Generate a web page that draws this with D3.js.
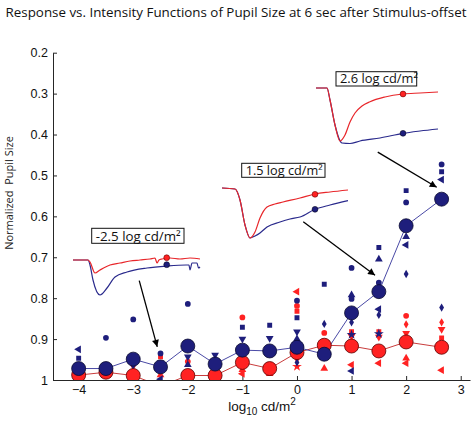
<!DOCTYPE html>
<html><head><meta charset="utf-8">
<script src="https://cdn.jsdelivr.net/npm/d3@7"></script>
<style>body{margin:0;background:#fff}svg{display:block}</style>
</head><body><svg id="c" width="472" height="426"></svg>
<script>
// ---------------- DATA ----------------
const titleText = "Response vs. Intensity Functions of Pupil Size at 6 sec after Stimulus-offset";
const yLabelText = "Normalized  Pupil Size";
const intensities = [-4, -3.5, -3, -2.5, -2, -1.5, -1, -0.5, 0, 0.5, 1, 1.5, 2, 2.65];
const blueMean = [0.972, 0.972, 0.949, 0.968, 0.917, 0.961, 0.927, 0.929, 0.920, 0.937, 0.836, 0.784, 0.623, 0.558];
const redMean  = [0.988, 0.981, 0.989, 1.015, 0.989, 0.989, 0.957, 0.972, 0.933, 0.915, 0.917, 0.929, 0.907, 0.920];
// individual subjects: [intensity, value, marker]
const blueIndiv = [
  [-4,0.925,"<"],[-4,0.947,"s"],[-4,0.985,"v"],
  [-3.5,0.897,"o"],[-3.5,0.985,"v"],
  [-3,0.852,"o"],[-3,0.964,"v"],
  [-2.5,0.935,"o"],[-2.5,0.958,"v"],[-2.5,0.998,"<"],
  [-2,0.814,"o"],[-2,0.943,"v"],[-2,0.963,"^"],
  [-1.5,0.939,"v"],
  [-1,0.871,"s"],[-1,0.900,"v"],
  [-0.5,0.866,"s"],[-0.5,0.898,"v"],
  [0,0.806,"o"],[0,0.848,"s"],[0,0.882,"v"],[0,0.900,"^"],[0,0.957,"d"],
  [0.5,0.766,"s"],[0.5,0.863,"d"],
  [1,0.726,"o"],[1,0.792,"^"],[1,0.802,"o"],[1,0.859,"d"],[1,0.889,"*"],[1,0.978,"<"],
  [1.5,0.676,"s"],[1.5,0.705,"^"],[1.5,0.762,"o"],[1.5,0.827,"<"],[1.5,0.841,"d"],[1.5,0.887,"*"],
  [2,0.537,"s"],[2,0.566,"o"],[2,0.650,"^"],[2,0.670,"<"],[2,0.741,"d"],
  [2.65,0.473,"o"],[2.65,0.491,"s"],[2.65,0.510,"<"],[2.65,0.823,"d"]
];
const redIndiv = [
  [-3,0.966,"v"],
  [-2.5,0.943,"s"],[-2.5,0.988,"^"],
  [-2,0.955,"o"],
  [-1.5,0.980,"^"],
  [-1,0.847,"o"],[-1,0.975,"^"],[-1,0.985,"<"],
  [-0.5,0.967,"v"],[-0.5,0.985,"^"],
  [0,0.784,"<"],[0,0.819,"o"],[0,0.832,"s"],[0,0.949,"d"],[0,0.967,"*"],
  [0.5,0.885,"o"],[0.5,0.972,"^"],
  [1,0.882,"s"],[1,0.893,"v"],[1,0.963,"<"],
  [1.5,0.882,"s"],[1.5,0.895,"v"],[1.5,0.959,"<"],
  [2,0.843,"o"],[2,0.864,"d"],[2,0.886,"v"],[2,0.947,"^"],[2,0.959,"<"],
  [2.65,0.859,"d"],[2.65,0.876,"v"],[2.65,0.897,"s"],[2.65,0.976,"<"]
];
const xTicks = [-4, -3, -2, -1, 0, 1, 2, 3];
const yTicks = [0.2, 0.3, 0.4, 0.5, 0.6, 0.7, 0.8, 0.9, 1];
const insetLabels = ["-2.5 log cd/m\u00B2", "1.5 log cd/m\u00B2", "2.6 log cd/m\u00B2"];
// inset pupil traces: [time, normalized size]
const trace1Red  = [[0,1],[3,1],[3.4,0.98],[4.4,0.87],[5.4,0.90],[7.4,0.95],[9.4,0.97],[11.4,0.99],[13.4,1.0],[15.4,1.01],[16.4,1.02],[16.8,0.97],[17.2,1.0],[17.8,1.01],[19.4,1.02],[21.4,1.01],[23.4,1.02],[25.4,1.01]];
const trace1Blue = [[0,1],[3,1],[3.4,0.95],[4,0.80],[5.4,0.65],[6.8,0.72],[8.4,0.83],[10.8,0.88],[14.8,0.92],[18.8,0.94],[22.6,0.95],[23.2,0.95],[23.4,0.90],[23.8,0.97],[24.8,0.97],[25.1,0.92],[25.4,0.93]];
const trace2Red  = [[0,1],[2.6,0.99],[3.6,0.88],[4.6,0.63],[5.6,0.50],[6.6,0.56],[7.6,0.70],[9,0.81],[10.6,0.84],[12.2,0.86],[15.6,0.90],[18.6,0.94],[21.6,0.96],[25.2,0.98]];
const trace2Blue = [[0,1],[2.6,0.99],[3.6,0.88],[4.6,0.63],[5.6,0.50],[6.6,0.52],[7.6,0.55],[9,0.61],[11.6,0.66],[13.6,0.69],[15.6,0.71],[18.6,0.787],[21.6,0.83],[25.2,0.873]];
const trace3Red  = [[0,1],[2.2,1],[2.8,0.88],[3.8,0.63],[4.8,0.47],[5.8,0.53],[6.8,0.66],[7.8,0.75],[9.2,0.82],[10.8,0.863],[13.8,0.91],[17.4,0.94],[20.8,0.95],[24.4,0.96]];
const trace3Blue = [[0,1],[2.2,1],[2.8,0.88],[3.8,0.63],[5.2,0.45],[6.8,0.445],[8.8,0.47],[12.8,0.50],[17.4,0.547],[20.8,0.57],[24.4,0.59]];
const insetDotTimes = [18.74, 18.6, 17.4];
const insetDotRed  = [1.023, 0.937, 0.94];
const insetDotBlue = [0.953, 0.787, 0.547];

// ---------------- DRAW ----------------
const svg = d3.select("#c");
const BLUE = "#1e1e7c", RED = "#ff2222";
const pL = 53, pR = 470, pT = 52.7, pB = 380;
const x = d3.scaleLinear().domain([-4.47, 3.17]).range([pL, pR]);
const y = d3.scaleLinear().domain([0.2, 1]).range([pT, pB]);

const defs = svg.append("defs");
defs.append("clipPath").attr("id","clip").append("rect")
  .attr("x", pL).attr("y", pT - 10).attr("width", pR - pL).attr("height", pB - pT + 10);
defs.append("marker").attr("id","ah").attr("viewBox","0 0 10 10").attr("refX",10).attr("refY",5)
  .attr("markerWidth",9).attr("markerHeight",7).attr("markerUnits","userSpaceOnUse")
  .attr("orient","auto").append("path").attr("d","M0,0L10,5L0,10z").attr("fill","#000");

// title
const title = svg.append("text").attr("x", 236).attr("y", 17).attr("text-anchor","middle")
  .attr("font-family","'Open Sans', sans-serif").attr("font-size",15).attr("fill","#111").text(titleText);
{ const w = title.node().getComputedTextLength(); title.attr("font-size", 15 * 461 / w); }

// axes
const axisColor = "#262626";
const gy = svg.append("g").attr("transform", `translate(${pL},0)`)
  .call(d3.axisLeft(y).tickValues(yTicks).tickSizeInner(-4).tickSizeOuter(0).tickPadding(5)
    .tickFormat(d => d === 1 ? "1" : d3.format(".1f")(d)));
const gx = svg.append("g").attr("transform", `translate(0,${pB})`)
  .call(d3.axisBottom(x).tickValues(xTicks).tickSizeInner(-4).tickSizeOuter(0).tickPadding(5));
[gx, gy].forEach(g => {
  g.selectAll("path,line").attr("stroke", axisColor);
  g.selectAll("text").attr("font-family","'Liberation Sans', Arial, sans-serif").attr("font-size",12.5).attr("fill","#111");
});

// axis labels
svg.append("text").attr("transform","translate(13,193) rotate(-90)").attr("text-anchor","middle")
  .attr("font-family","'Open Sans', sans-serif").attr("font-size",11).attr("fill","#222")
  .attr("xml:space","preserve").text(yLabelText);
const xl = svg.append("text").attr("x", 262).attr("y", 411).attr("text-anchor","middle")
  .attr("font-family","'Liberation Sans', Arial, sans-serif").attr("font-size",13.5).attr("fill","#111");
xl.append("tspan").text("log");
xl.append("tspan").attr("font-size",10).attr("dy",4).text("10");
xl.append("tspan").attr("dy",-4).text(" cd/m");
xl.append("tspan").attr("font-size",10).attr("dy",-6).text("2");

// plot
const plot = svg.append("g").attr("clip-path","url(#clip)");
const symType = {o: d3.symbolCircle, s: d3.symbolSquare, "^": d3.symbolTriangle, v: d3.symbolTriangle, "<": d3.symbolTriangle, d: d3.symbolDiamond, "*": d3.symbolStar};
const symSize = {o: 26, s: 24, "^": 26, v: 26, "<": 26, d: 20, "*": 30};
const symRot = {o: 0, s: 0, "^": 0, v: 180, "<": -90, d: 0, "*": 0};
function drawIndiv(data, color) {
  plot.append("g").selectAll("path").data(data.filter(d => d[1] <= 1)).join("path")
    .attr("d", d => d3.symbol().type(symType[d[2]]).size(symSize[d[2]])())
    .attr("transform", d => `translate(${x(d[0])},${y(d[1])}) rotate(${symRot[d[2]]})`)
    .attr("fill", color);
}
drawIndiv(redIndiv, RED);
drawIndiv(blueIndiv, BLUE);

const line = d3.line().x(d => x(d[0])).y(d => y(d[1]));
const redPts = intensities.map((v,i) => [v, redMean[i]]);
const bluePts = intensities.map((v,i) => [v, blueMean[i]]);
plot.append("path").attr("d", line(redPts)).attr("fill","none").attr("stroke","#c83c3c").attr("stroke-width",1);
plot.append("path").attr("d", line(bluePts)).attr("fill","none").attr("stroke","#4a4aa6").attr("stroke-width",1);
plot.append("g").selectAll("circle").data(redPts.filter(d => d[1] <= 1)).join("circle")
  .attr("cx", d => x(d[0])).attr("cy", d => y(d[1])).attr("r", 7)
  .attr("fill", RED).attr("stroke","#5a0000").attr("stroke-width",0.8);
plot.append("g").selectAll("circle").data(bluePts.filter(d => d[1] <= 1)).join("circle")
  .attr("cx", d => x(d[0])).attr("cy", d => y(d[1])).attr("r", 7)
  .attr("fill", BLUE).attr("stroke","#0a0a30").attr("stroke-width",0.8);

// insets
const insets = [
  {x0: 73, y0: 260, red: trace1Red, blue: trace1Blue, box: [91.7, 228.3, 92.3, 15], tw: 85},
  {x0: 222, y0: 188, red: trace2Red, blue: trace2Blue, box: [241.7, 163.3, 83.3, 14], tw: 77},
  {x0: 316, y0: 88, red: trace3Red, blue: trace3Blue, box: [336, 71.7, 80.7, 14.3], tw: 78}
];
insets.forEach((ins, i) => {
  const tx = d3.scaleLinear().domain([0, 1]).range([ins.x0, ins.x0 + 5]);
  const ty = d3.scaleLinear().domain([0, 1]).range([ins.y0 + 100, ins.y0]);
  const tl = d3.line().x(d => tx(d[0])).y(d => ty(d[1])).curve(d3.curveMonotoneX);
  const g = svg.append("g");
  g.append("path").attr("d", tl(ins.blue)).attr("fill","none").attr("stroke","#2a2a8c").attr("stroke-width",1.2);
  g.append("path").attr("d", tl(ins.red)).attr("fill","none").attr("stroke","#e8262a").attr("stroke-width",1.2);
  g.append("circle").attr("cx", tx(insetDotTimes[i])).attr("cy", ty(insetDotRed[i])).attr("r", 2.9)
    .attr("fill", RED).attr("stroke","#6a0000").attr("stroke-width",0.6);
  g.append("circle").attr("cx", tx(insetDotTimes[i])).attr("cy", ty(insetDotBlue[i])).attr("r", 2.9)
    .attr("fill", BLUE).attr("stroke","#050520").attr("stroke-width",0.6);
  const [bx, by, bw, bh] = ins.box;
  g.append("rect").attr("x",bx).attr("y",by).attr("width",bw).attr("height",bh).attr("fill","#fff");
  const t = g.append("text").attr("x", bx + 4).attr("y", by + bh - 2.8)
    .attr("font-family","'Open Sans', sans-serif").attr("font-size",12).attr("fill","#111").text(insetLabels[i]);
  const w = t.node().getComputedTextLength(); t.attr("font-size", 12 * ins.tw / w);
  g.append("rect").attr("x",bx).attr("y",by).attr("width",bw).attr("height",bh)
    .attr("fill","none").attr("stroke","#111").attr("stroke-width",1);
});

// arrows (data coordinates)
const arrows = [
  [[-2.89, 0.757], [-2.56, 0.919]],
  [[0.115, 0.613], [1.43, 0.744]],
  [[1.48, 0.443], [2.56, 0.529]]
];
svg.append("g").selectAll("line").data(arrows).join("line")
  .attr("x1", d => x(d[0][0])).attr("y1", d => y(d[0][1]))
  .attr("x2", d => x(d[1][0])).attr("y2", d => y(d[1][1]))
  .attr("stroke","#000").attr("stroke-width",1.3).attr("marker-end","url(#ah)");
</script></body></html>
